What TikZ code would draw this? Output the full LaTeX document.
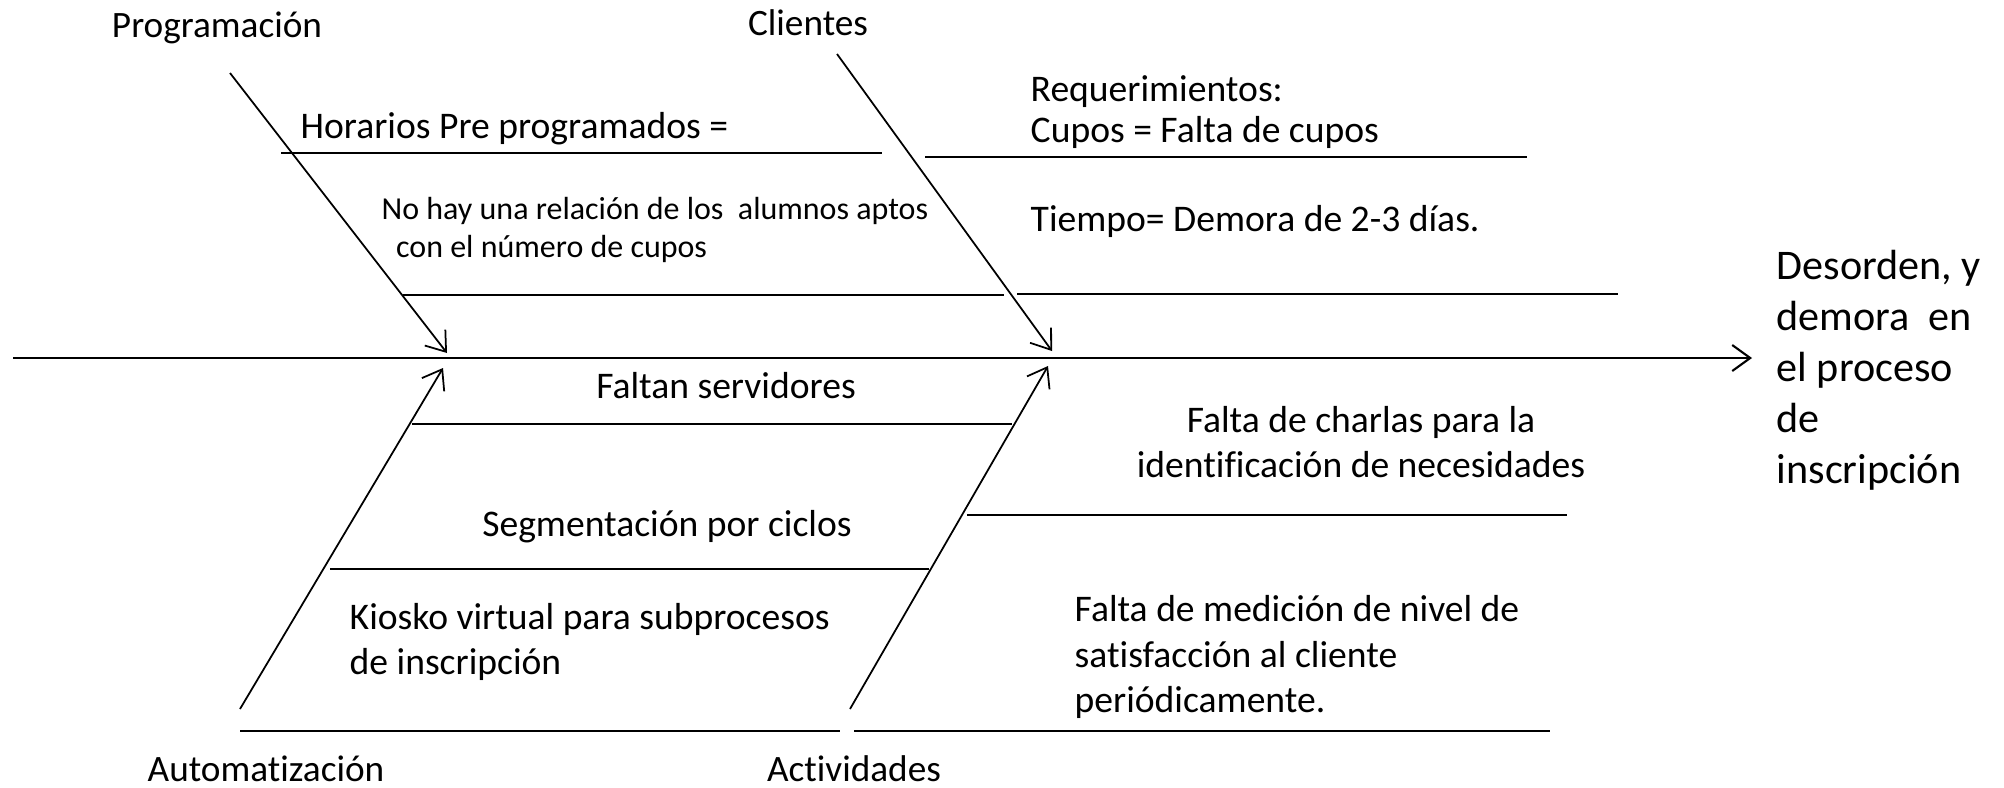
\documentclass[tikz,border=0pt]{standalone}
\usepackage{fontspec}
\setmainfont{Carlito}[Ligatures=NoCommon]
\usetikzlibrary{arrows.meta}
\tikzset{
	bone/.style={line width=0.5pt, -{Straight Barb[length=1.8mm,width=2.6mm]}},
	rib/.style={line width=0.6pt},
	txt/.style={inner sep=0pt, font=\fontsize{10.7}{13}\selectfont, align=left},
	cat/.style={inner sep=0pt, font=\fontsize{10.6}{12}\selectfont}
}

\begin{document}
\begin{tikzpicture}
		%%%%% START %%%%%
		
		\useasboundingbox (0, 0) rectangle (20.04, 7.87);
		
		% spine and effect
		\coordinate (tail) at (0.13, 4.29);
		\coordinate (head) at (17.52, 4.29);
		\draw[bone, line width=0.6pt] (tail) -- (head);
		\node[txt, anchor=west, font=\fontsize{12}{14.5}\selectfont] (efecto) at (17.76, 4.17) {Desorden, y\\demora~~en\\el proceso\\de\\inscripci\'on};
		
		% categories
		\node[cat] (prog) at (2.17, 7.59) {Programaci\'on};
		\node[cat] (cli) at (8.08, 7.64) {Clientes};
		\node[cat] (auto) at (2.66, 0.18) {Automatizaci\'on};
		\node[cat] (act) at (8.54, 0.18) {Actividades};
		
		\coordinate (prog0) at (2.30, 7.14);
		\coordinate (prog1) at (4.47, 4.34);
		\coordinate (cli0) at (8.37, 7.33);
		\coordinate (cli1) at (10.52, 4.36);
		\coordinate (auto0) at (2.40, 0.78);
		\coordinate (auto1) at (4.43, 4.19);
		\coordinate (act0) at (8.50, 0.78);
		\coordinate (act1) at (10.48, 4.21);
		
		\draw[bone] (prog0) -- (prog1);
		\draw[bone] (cli0) -- (cli1);
		\draw[bone] (auto0) -- (auto1);
		\draw[bone] (act0) -- (act1);
		
		% ribs
		\draw[rib] (2.81, 6.34) -- (8.82, 6.34);
		\draw[rib] (9.25, 6.30) -- (15.27, 6.30);
		\draw[rib] (4.03, 4.92) -- (10.04, 4.92);
		\draw[rib] (10.17, 4.93) -- (16.18, 4.93);
		\draw[rib] (4.12, 3.63) -- (10.12, 3.63);
		\draw[rib] (9.67, 2.72) -- (15.67, 2.72);
		\draw[rib] (3.30, 2.18) -- (9.29, 2.18);
		\draw[rib] (2.40, 0.56) -- (8.40, 0.56);
		\draw[rib] (8.54, 0.56) -- (15.50, 0.56);
		
		% causes
		\node[txt, anchor=west] (horarios) at (3.00, 6.58) {Horarios Pre programados =};
		\node[txt, anchor=west, font=\fontsize{10.7}{11.8}\selectfont] (req) at (10.30, 6.75) {Requerimientos:\\Cupos = Falta de cupos};
		\node[txt, anchor=west, font=\fontsize{9.1}{11}\selectfont] (relacion) at (3.81, 5.57) {No hay una relaci\'on de los~~alumnos aptos\\~~con el n\'umero de cupos};
		\node[txt, anchor=west] (tiempo) at (10.30, 5.66) {Tiempo= Demora de 2-3 d\'ias.};
		\node[txt] (servidores) at (7.26, 4.01) {Faltan servidores};
		\node[txt, align=center] (charlas) at (13.61, 3.45) {Falta de charlas para la\\identificaci\'on de necesidades};
		\node[txt] (ciclos) at (6.67, 2.60) {Segmentaci\'on por ciclos};
		\node[txt, anchor=west] (kiosko) at (3.49, 1.45) {Kiosko virtual para subprocesos\\de inscripci\'on};
		\node[txt, anchor=west] (medicion) at (10.74, 1.30) {Falta de medici\'on de nivel de\\satisfacci\'on al cliente\\peri\'odicamente.};
		
		%%%%% END %%%%%
\end{tikzpicture}
\end{document}
